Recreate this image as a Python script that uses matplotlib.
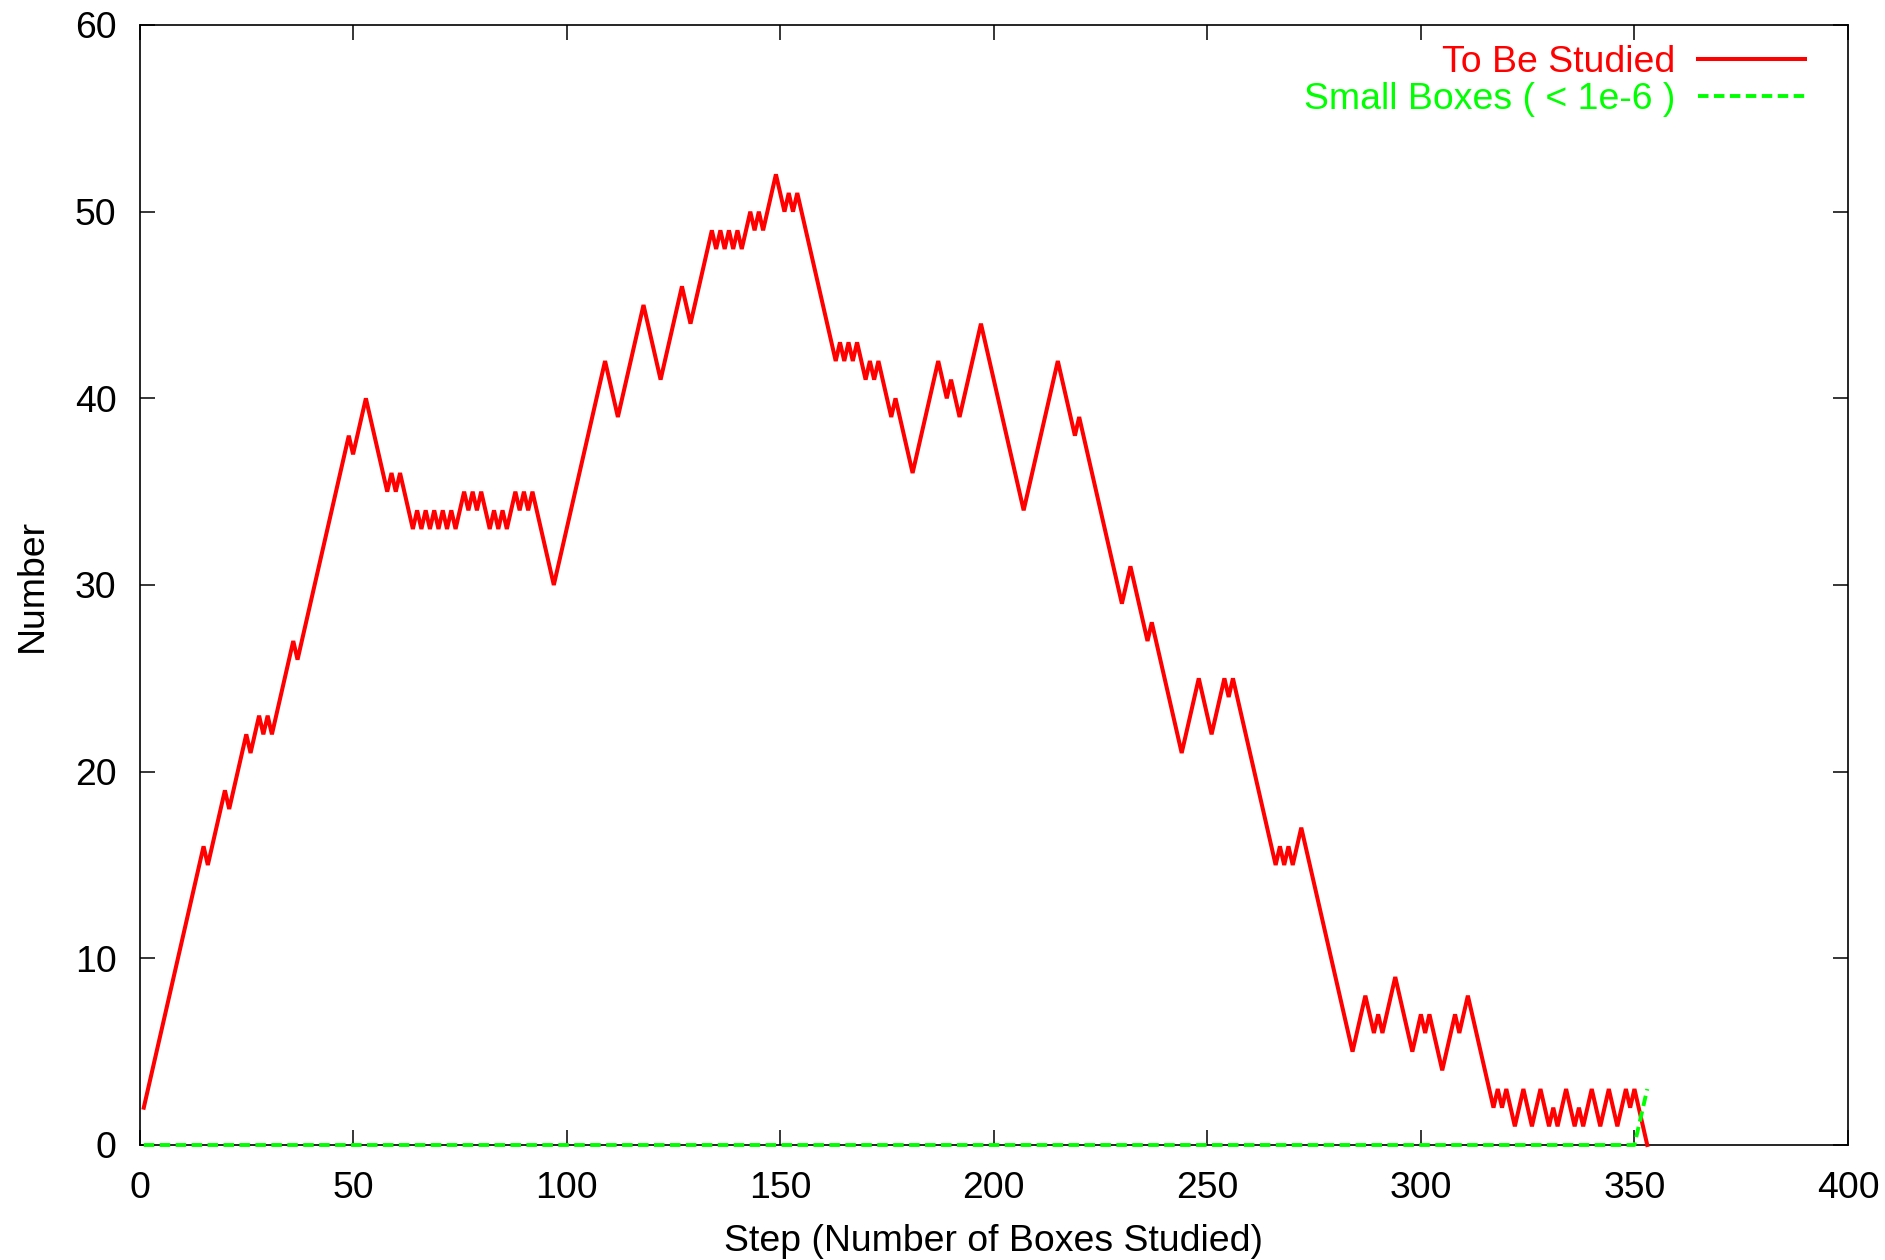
import matplotlib
matplotlib.use("Agg")
import matplotlib.pyplot as plt

plt.rcParams['font.family'] = ['Liberation Sans', 'DejaVu Sans']

# Turning points of the "To Be Studied" curve (step, number)
steps_tbs = [1, 15, 16, 20, 21, 25, 26, 28, 29, 30, 31, 36, 37, 49, 50, 53,
             58, 59, 60, 61, 64, 65, 66, 67, 68, 69, 70, 71, 72, 73, 74, 76,
             77, 78, 79, 80, 82, 83, 84, 85, 86, 88, 89, 90, 91, 92, 97, 109,
             112, 118, 122, 127, 129, 134, 135, 136, 137, 138, 139, 140, 141,
             143, 144, 145, 146, 149, 151, 152, 153, 154, 163, 164, 165, 166,
             167, 168, 170, 171, 172, 173, 176, 177, 181, 187, 189, 190, 192,
             197, 207, 215, 219, 220, 230, 232, 236, 237, 244, 248, 251, 254,
             255, 256, 266, 267, 268, 269, 270, 272, 284, 287, 289, 290, 291,
             294, 298, 300, 301, 302, 305, 308, 309, 311, 317, 318, 319, 320,
             322, 324, 326, 328, 330, 331, 332, 334, 336, 337, 338, 340, 342,
             344, 346, 348, 349, 350, 353]
values_tbs = [2, 16, 15, 19, 18, 22, 21, 23, 22, 23, 22, 27, 26, 38, 37, 40,
              35, 36, 35, 36, 33, 34, 33, 34, 33, 34, 33, 34, 33, 34, 33, 35,
              34, 35, 34, 35, 33, 34, 33, 34, 33, 35, 34, 35, 34, 35, 30, 42,
              39, 45, 41, 46, 44, 49, 48, 49, 48, 49, 48, 49, 48,
              50, 49, 50, 49, 52, 50, 51, 50, 51, 42, 43, 42, 43,
              42, 43, 41, 42, 41, 42, 39, 40, 36, 42, 40, 41, 39,
              44, 34, 42, 38, 39, 29, 31, 27, 28, 21, 25, 22, 25,
              24, 25, 15, 16, 15, 16, 15, 17, 5, 8, 6, 7, 6,
              9, 5, 7, 6, 7, 4, 7, 6, 8, 2, 3, 2, 3,
              1, 3, 1, 3, 1, 2, 1, 3, 1, 2, 1, 3, 1,
              3, 1, 3, 2, 3, 0]

# Turning points of the "Small Boxes" curve
steps_small = [1, 350, 353]
values_small = [0, 0, 3]

xticks = [0, 50, 100, 150, 200, 250, 300, 350, 400]
yticks = [0, 10, 20, 30, 40, 50, 60]

FS = 26.9

fig = plt.figure(figsize=(18.85, 12.6), dpi=100)
W, H = 1885, 1260
left, right, top, bottom = 139.5, 1848, 25, 1145
ax = fig.add_axes([left / W, 1 - bottom / H, (right - left) / W, (bottom - top) / H])

ax.plot(steps_tbs, values_tbs, color='#ff0000', lw=2.9,
        solid_joinstyle='miter', label='To Be Studied', zorder=3, clip_on=False)
ax.plot(steps_small, values_small, color='#00ff00', lw=2.8,
        dashes=(2.7, 1.4), dash_capstyle='butt',
        label='Small Boxes ( < 1e-6 )', zorder=4, clip_on=False)

ax.set_xlim(0, 400)
ax.set_ylim(0, 60)
ax.set_xticks(xticks)
ax.set_yticks(yticks)
ax.tick_params(direction='in', length=11, width=1.1, top=True, right=True,
               labelsize=FS, colors='black')
ax.tick_params(axis='x', pad=19)
ax.tick_params(axis='y', pad=16.5)
for s in ax.spines.values():
    s.set_linewidth(1.2)
    s.set_zorder(2)

ax.set_xlabel('Step (Number of Boxes Studied)', fontsize=FS)
ax.set_ylabel('Number', fontsize=FS)
ax.xaxis.set_label_coords(0.5, -0.0705)
ax.yaxis.set_label_coords(-0.0522, 0.5)

leg = ax.legend(loc='upper right', bbox_to_anchor=(0.9748, 0.9817),
                frameon=False, markerfirst=False, fontsize=FS,
                handlelength=2.85, handletextpad=0.62, labelspacing=0.05,
                borderpad=0, borderaxespad=0, labelcolor='linecolor')

fig.savefig('out.png', dpi=100)
